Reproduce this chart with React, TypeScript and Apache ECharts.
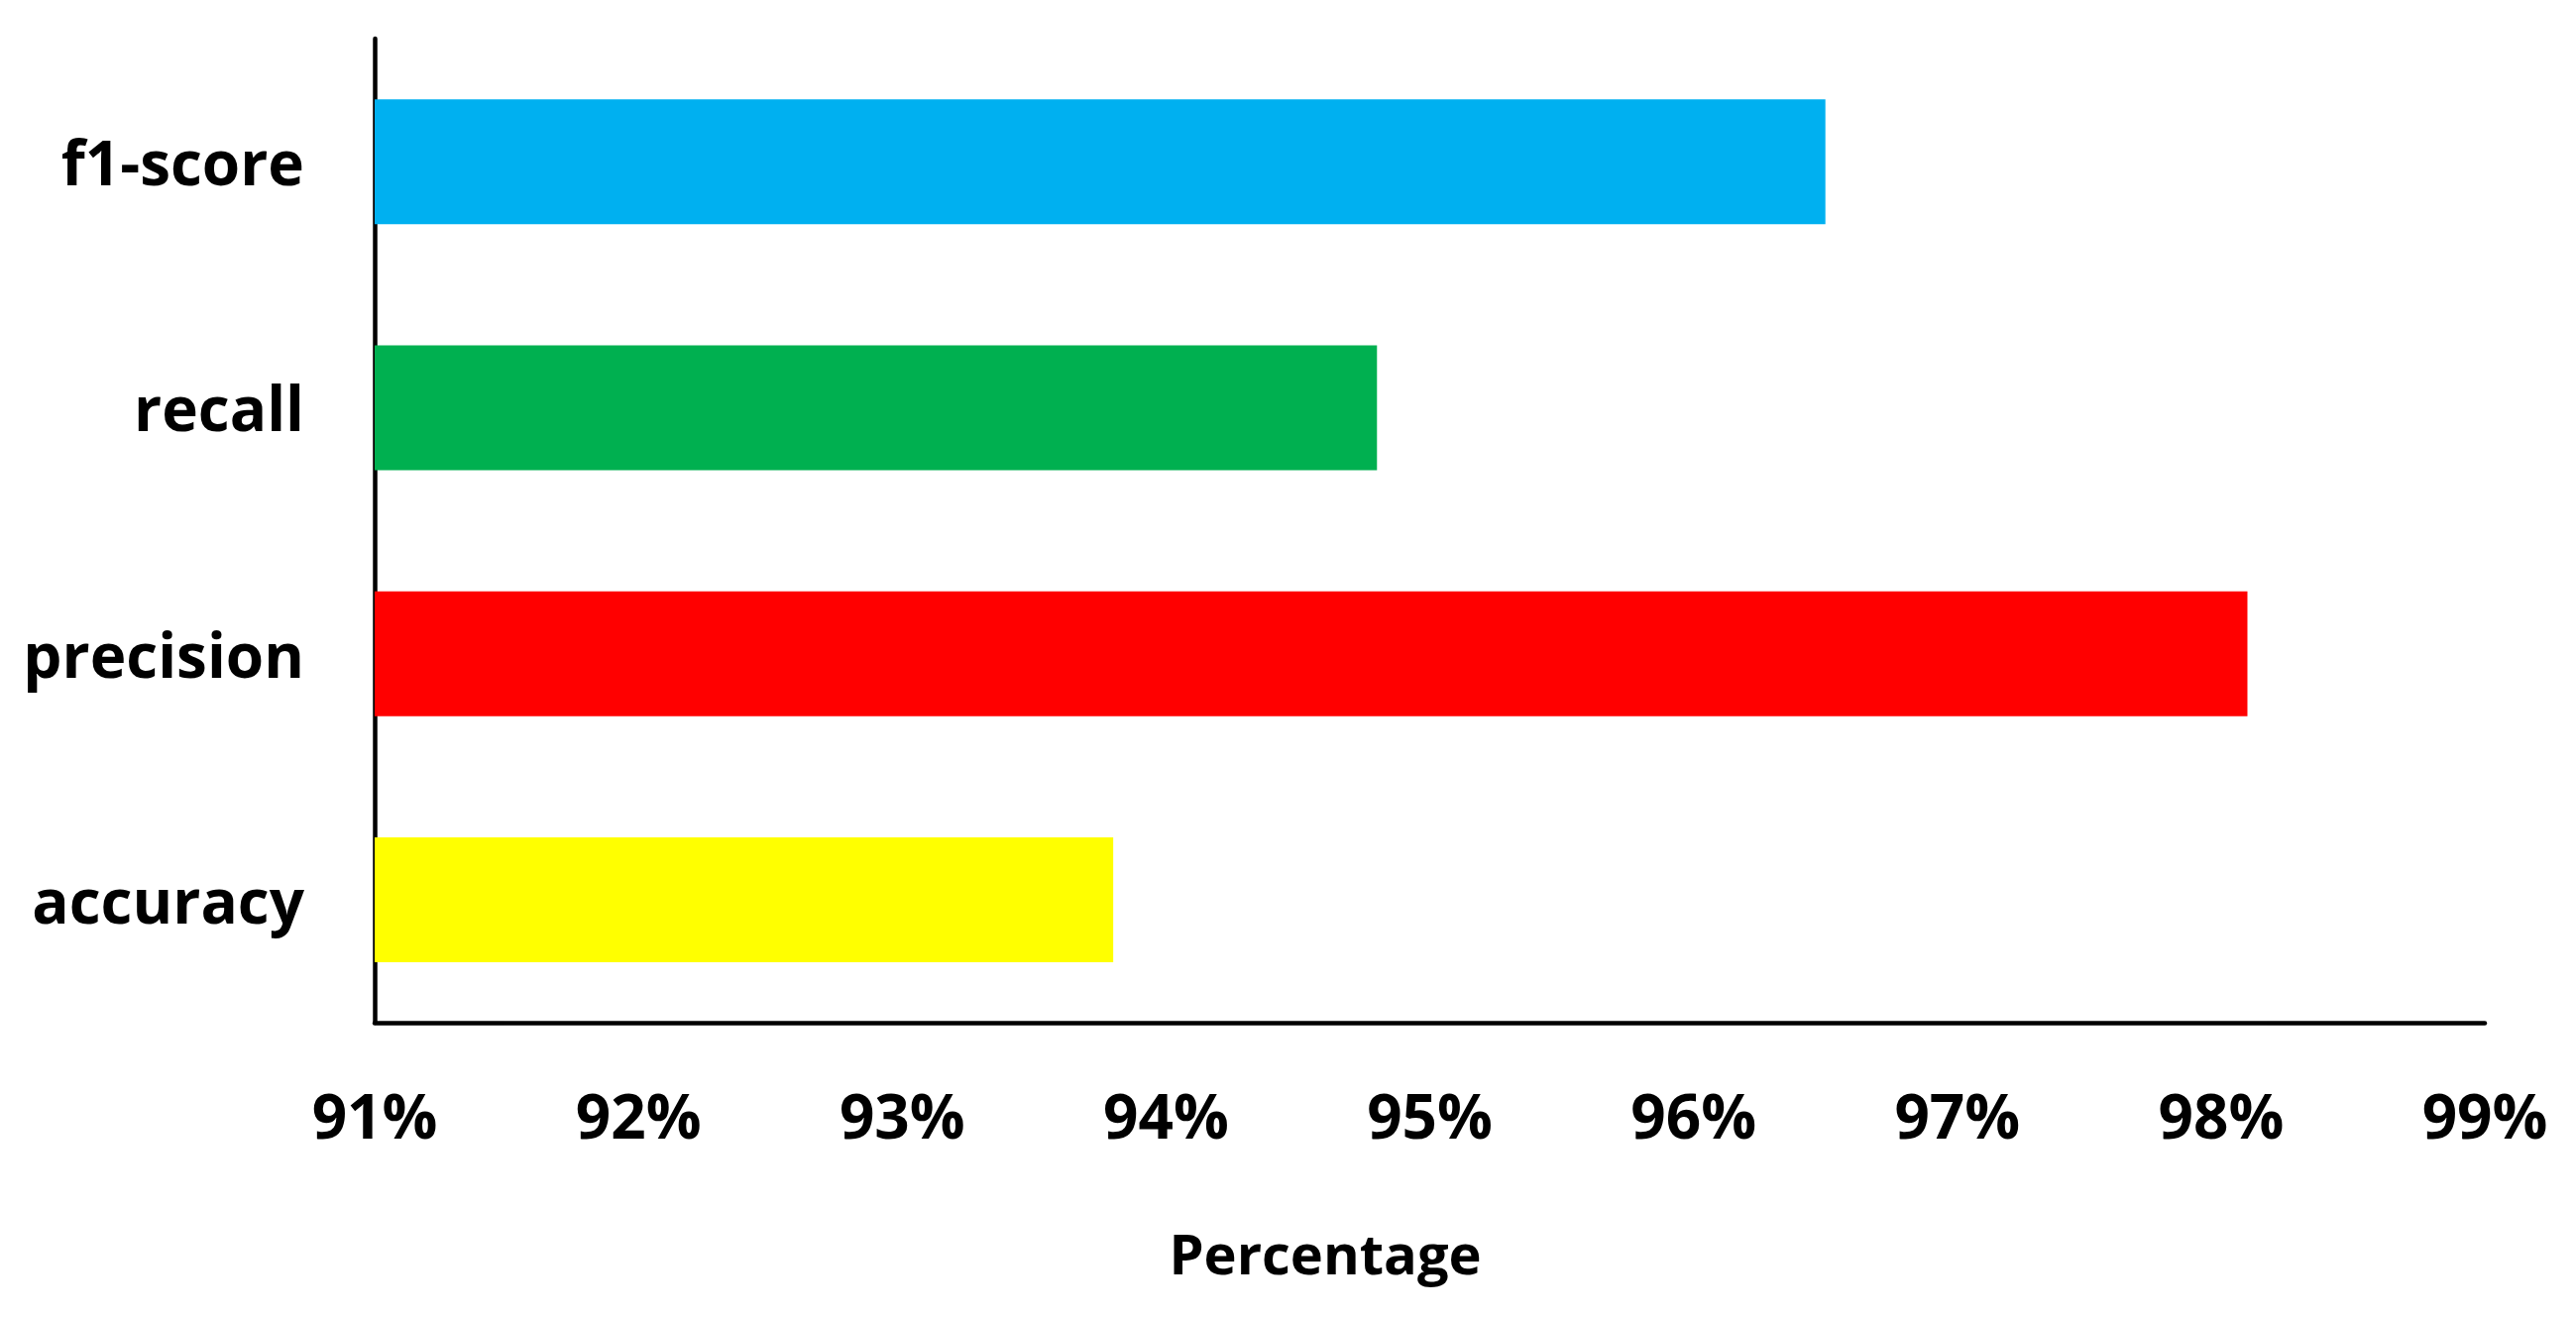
import React, { useEffect, useRef } from "react";
import * as echarts from "echarts";

const categories = ["accuracy", "precision", "recall", "f1-score"];
const values = [93.8, 98.1, 94.8, 96.5];
const barColors = ["#FFFF00", "#FF0000", "#00B050", "#00B0F0"];
const xMin = 91;
const xMax = 99;
const xInterval = 1;
const xAxisTitle = "Percentage";

const FONT = "'Open Sans', 'Noto Sans', sans-serif";

export default function App() {
  const ref = useRef<HTMLDivElement>(null);

  useEffect(() => {
    if (!ref.current) return;
    const chart = echarts.init(ref.current, null, { renderer: "svg" });
    chart.setOption({
      animation: false,
      backgroundColor: "#ffffff",
      grid: { left: 378, right: 92, top: 39, bottom: 1329 - 1032 },
      graphic: [
        {
          type: "text",
          x: 1337,
          y: 1264,
          style: {
            text: xAxisTitle,
            fontFamily: FONT,
            fontWeight: "bold",
            fontSize: 56,
            fill: "#000",
            textAlign: "center",
            textVerticalAlign: "middle",
          },
        },
      ],
      xAxis: {
        type: "value",
        min: xMin,
        max: xMax,
        interval: xInterval,
        axisLine: { show: true, lineStyle: { color: "#000", width: 4.5 } },
        axisTick: { show: false },
        splitLine: { show: false },
        axisLabel: {
          margin: 62,
          fontFamily: FONT,
          fontWeight: "bold",
          fontSize: 62,
          color: "#000",
          formatter: (v: number) => `${v}%`,
        },
      },
      yAxis: {
        type: "category",
        data: categories,
        axisLine: { show: true, lineStyle: { color: "#000", width: 4.5 } },
        axisTick: { show: false },
        splitLine: { show: false },
        axisLabel: {
          margin: 71,
          fontFamily: FONT,
          fontWeight: "bold",
          fontSize: 62,
          color: "#000",
        },
      },
      series: [
        {
          type: "bar",
          barWidth: 126,
          data: values.map((v, i) => ({ value: v, itemStyle: { color: barColors[i] } })),
        },
      ],
    });
    return () => chart.dispose();
  }, []);

  return (
    <div
      ref={ref}
      style={{ position: "fixed", left: 0, top: 0, width: 2599, height: 1329 }}
    />
  );
}
